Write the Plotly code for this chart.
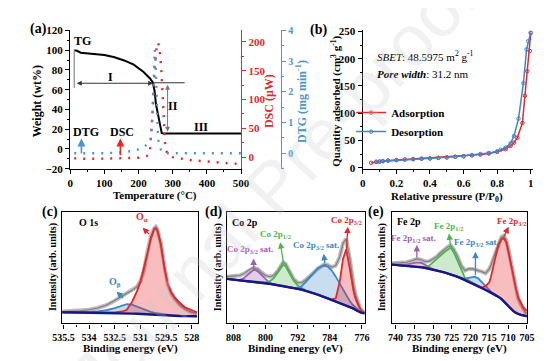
import plotly.graph_objects as go

W, H = 554, 361
def px(x): return x / W
def py(y): return 1 - y / H

FONT = "Liberation Serif"
RED = "#e8262a"; BLUE = "#3b87c9"; GREEN = "#4cb54c"; PURPLE = "#a15db6"; NAVY = "#16168e"
DTGBLUE = "#4a94d0"

# ---------------- (a) TG / DTG / DSC ----------------
tg_temp = [12, 20, 31, 50, 69, 100, 130, 158, 186, 214, 233, 242, 247, 251, 258, 263, 268, 275, 300, 400, 500]
tg_weight = [100, 99.4, 97.5, 96.5, 96.1, 95.1, 92.8, 89.6, 85.3, 78.1, 71.6, 67.3, 58.5, 45.4, 32.3, 22.5, 16.0, 15.5, 15.5, 15.5, 15.5]

dtg_temp = [12, 50, 100, 150, 186, 215, 235, 241, 244, 247.6, 250, 252, 254, 257, 261, 268, 276, 300, 350, 400, 450, 500]
dtg_value = [0.0, 0.0, 0.0, 0.03, 0.08, 0.19, 0.4, 1.2, 2.2, 3.37, 3.0, 2.0, 1.0, 0.5, 0.24, 0.05, 0.0, 0.0, 0.0, 0.0, 0.0, 0.0]

dsc_temp = [12, 50, 100, 150, 200, 224, 233, 238, 243, 248, 253, 257, 261, 266, 271, 275, 278, 285, 300, 350, 400, 450, 500]
dsc_value = [-2, -3, -2.5, -2, -1, 2, 6, 47, 103, 159, 190, 199, 190, 159, 103, 47, 19, 4, 0, -5, -8, -10, -12]

# ---------------- (b) N2 isotherm ----------------
p_ads = [0.05, 0.08, 0.10, 0.12, 0.15, 0.20, 0.25, 0.30, 0.35, 0.40, 0.45, 0.50, 0.55, 0.60, 0.65, 0.70, 0.75, 0.80, 0.85, 0.88, 0.90, 0.92, 0.95, 0.965, 0.979, 0.994, 1.0]
q_ads = [9, 10.5, 11, 12, 13, 14, 15, 16, 16.5, 17, 18, 19, 20, 21, 22.5, 24, 26, 29, 34, 40, 46, 55, 82, 132, 177, 214, 247]
p_des = [1.0, 0.985, 0.975, 0.956, 0.927, 0.90, 0.88, 0.85, 0.82, 0.80, 0.75, 0.70, 0.65, 0.60, 0.55, 0.50, 0.45, 0.40, 0.35, 0.30, 0.25, 0.20, 0.15, 0.12, 0.10, 0.08]
q_des = [248, 232, 217, 155, 90, 58, 45, 37, 33, 30, 27, 25, 23, 21, 20, 19, 18, 17, 16.5, 15.5, 15, 14, 13, 12, 11.5, 11]

# ---------------- (c) O 1s ----------------
o_energy = [535.6, 535, 534.5, 534, 533.5, 533, 532.5, 532, 531.8, 531.5, 531.2, 531.0, 530.8, 530.6, 530.4, 530.2, 530.1, 530.0, 529.8, 529.6, 529.4, 529.2, 529.0, 528.7, 528.4, 528.0, 527.7]
o_background = [0.100, 0.099, 0.098, 0.097, 0.096, 0.095, 0.093, 0.091, 0.090, 0.088, 0.086, 0.084, 0.082, 0.080, 0.078, 0.076, 0.075, 0.074, 0.072, 0.070, 0.069, 0.068, 0.067, 0.066, 0.065, 0.064, 0.064]
o_beta = [0.100, 0.099, 0.099, 0.101, 0.107, 0.118, 0.138, 0.163, 0.172, 0.168, 0.150, 0.136, 0.122, 0.112, 0.104, 0.097, 0.094, 0.091, 0.086, 0.081, 0.076, 0.072, 0.069, 0.067, 0.065, 0.064, 0.064]
o_alpha = [0.100, 0.099, 0.098, 0.097, 0.096, 0.096, 0.099, 0.110, 0.122, 0.190, 0.290, 0.377, 0.490, 0.625, 0.760, 0.850, 0.855, 0.830, 0.700, 0.500, 0.350, 0.280, 0.235, 0.185, 0.145, 0.115, 0.100]
o_data = [0.107, 0.110, 0.114, 0.122, 0.138, 0.163, 0.203, 0.250, 0.270, 0.295, 0.330, 0.380, 0.470, 0.640, 0.780, 0.855, 0.870, 0.845, 0.720, 0.520, 0.350, 0.270, 0.220, 0.165, 0.130, 0.100, 0.090]

# ---------------- (d) Co 2p ----------------
co_energy = [809.7, 808, 806.5, 805.5, 804.5, 803.5, 802.9, 802, 801, 800, 799, 798, 797, 796, 795.6, 795, 794, 793, 792, 791, 790, 789, 788, 787, 786, 785.4, 784.5, 783.5, 782.5, 781.5, 780.7, 779.9, 779, 778.5, 778, 777.5, 777, 776.5, 776, 775.3]
co_background = [0.400, 0.394, 0.388, 0.385, 0.382, 0.378, 0.376, 0.372, 0.367, 0.362, 0.356, 0.350, 0.344, 0.338, 0.336, 0.332, 0.325, 0.318, 0.311, 0.303, 0.293, 0.283, 0.272, 0.259, 0.245, 0.237, 0.225, 0.210, 0.196, 0.183, 0.172, 0.160, 0.148, 0.140, 0.130, 0.118, 0.108, 0.100, 0.095, 0.090]
co_sat_a = [0.400, 0.394, 0.392, 0.405, 0.435, 0.470, 0.484, 0.470, 0.432, 0.395, 0.365, 0.352, 0.344, 0.338, 0.336, 0.332, 0.325, 0.318, 0.311, 0.303, 0.293, 0.283, 0.272, 0.259, 0.245, 0.237, 0.225, 0.210, 0.196, 0.183, 0.172, 0.160, 0.148, 0.140, 0.130, 0.118, 0.108, 0.100, 0.095, 0.090]
co_2p12 = [0.400, 0.394, 0.388, 0.385, 0.382, 0.378, 0.376, 0.372, 0.367, 0.368, 0.378, 0.405, 0.455, 0.515, 0.528, 0.515, 0.455, 0.385, 0.340, 0.315, 0.298, 0.285, 0.273, 0.259, 0.245, 0.237, 0.225, 0.210, 0.196, 0.183, 0.172, 0.160, 0.148, 0.140, 0.130, 0.118, 0.108, 0.100, 0.095, 0.090]
co_sat_b = [0.400, 0.394, 0.388, 0.385, 0.382, 0.378, 0.376, 0.372, 0.367, 0.362, 0.356, 0.350, 0.344, 0.338, 0.336, 0.332, 0.325, 0.318, 0.320, 0.335, 0.370, 0.415, 0.460, 0.495, 0.515, 0.520, 0.510, 0.475, 0.420, 0.355, 0.300, 0.250, 0.200, 0.175, 0.155, 0.135, 0.118, 0.105, 0.097, 0.090]
co_2p32 = [0.400, 0.394, 0.388, 0.385, 0.382, 0.378, 0.376, 0.372, 0.367, 0.362, 0.356, 0.350, 0.344, 0.338, 0.336, 0.332, 0.325, 0.318, 0.311, 0.303, 0.293, 0.283, 0.272, 0.259, 0.245, 0.237, 0.225, 0.215, 0.225, 0.380, 0.580, 0.667, 0.490, 0.370, 0.280, 0.215, 0.170, 0.135, 0.110, 0.095]
co_data = [0.420, 0.425, 0.430, 0.445, 0.470, 0.495, 0.500, 0.490, 0.455, 0.430, 0.420, 0.430, 0.470, 0.530, 0.550, 0.535, 0.470, 0.400, 0.365, 0.365, 0.390, 0.425, 0.460, 0.490, 0.515, 0.530, 0.525, 0.505, 0.520, 0.600, 0.720, 0.760, 0.580, 0.440, 0.330, 0.250, 0.190, 0.145, 0.115, 0.100]

# ---------------- (e) Fe 2p ----------------
fe_energy = [741, 739, 737, 735.5, 734.3, 733, 732, 731, 730, 729, 728, 727, 726, 725.3, 724.5, 723.6, 722.5, 721.5, 720.5, 719.5, 718.9, 718, 717, 716, 715, 714.5, 713.8, 713, 712.5, 711.8, 711.2, 710.5, 709.9, 709.2, 708.6, 707.9, 707.3, 706.6, 706, 705.4, 705]
fe_background = [0.528, 0.523, 0.518, 0.513, 0.510, 0.504, 0.498, 0.491, 0.484, 0.476, 0.467, 0.458, 0.448, 0.441, 0.432, 0.420, 0.405, 0.390, 0.375, 0.360, 0.350, 0.337, 0.320, 0.300, 0.283, 0.275, 0.263, 0.248, 0.238, 0.220, 0.200, 0.172, 0.150, 0.128, 0.110, 0.093, 0.083, 0.076, 0.072, 0.067, 0.064]
fe_sat_a = [0.528, 0.526, 0.528, 0.540, 0.548, 0.543, 0.525, 0.502, 0.487, 0.476, 0.467, 0.458, 0.448, 0.441, 0.432, 0.420, 0.405, 0.390, 0.375, 0.360, 0.350, 0.337, 0.320, 0.300, 0.283, 0.275, 0.263, 0.248, 0.238, 0.220, 0.200, 0.172, 0.150, 0.128, 0.110, 0.093, 0.083, 0.076, 0.072, 0.067, 0.064]
fe_2p12 = [0.528, 0.523, 0.518, 0.513, 0.510, 0.504, 0.505, 0.520, 0.550, 0.585, 0.615, 0.640, 0.665, 0.680, 0.640, 0.570, 0.475, 0.410, 0.385, 0.368, 0.357, 0.342, 0.324, 0.303, 0.285, 0.275, 0.263, 0.248, 0.238, 0.220, 0.200, 0.172, 0.150, 0.128, 0.110, 0.093, 0.083, 0.076, 0.072, 0.067, 0.064]
fe_sat_b = [0.528, 0.523, 0.518, 0.513, 0.510, 0.504, 0.498, 0.491, 0.484, 0.476, 0.467, 0.458, 0.448, 0.441, 0.432, 0.420, 0.407, 0.400, 0.410, 0.418, 0.420, 0.405, 0.370, 0.330, 0.298, 0.283, 0.268, 0.248, 0.238, 0.220, 0.200, 0.172, 0.150, 0.128, 0.110, 0.093, 0.083, 0.076, 0.072, 0.067, 0.064]
fe_2p32 = [0.528, 0.523, 0.518, 0.513, 0.510, 0.504, 0.498, 0.491, 0.484, 0.476, 0.467, 0.458, 0.448, 0.441, 0.432, 0.420, 0.405, 0.390, 0.375, 0.360, 0.350, 0.337, 0.322, 0.335, 0.370, 0.430, 0.540, 0.650, 0.710, 0.755, 0.768, 0.730, 0.637, 0.520, 0.406, 0.310, 0.232, 0.180, 0.145, 0.125, 0.116]
fe_data = [0.540, 0.545, 0.550, 0.565, 0.580, 0.570, 0.555, 0.560, 0.580, 0.600, 0.635, 0.667, 0.690, 0.700, 0.665, 0.610, 0.520, 0.475, 0.490, 0.490, 0.485, 0.478, 0.465, 0.450, 0.490, 0.530, 0.600, 0.680, 0.730, 0.775, 0.788, 0.750, 0.667, 0.540, 0.420, 0.310, 0.220, 0.170, 0.130, 0.100, 0.090]

fig = go.Figure()

# ---- (a) traces
fig.add_trace(go.Scatter(x=tg_temp, y=tg_weight, mode="lines", line=dict(color="black", width=2), xaxis="x", yaxis="y"))
fig.add_trace(go.Scatter(x=dsc_temp, y=dsc_value, mode="lines", line=dict(color=RED, width=2.4, dash="2px,7px"), xaxis="x", yaxis="y2"))
fig.add_trace(go.Scatter(x=dtg_temp, y=dtg_value, mode="lines", line=dict(color=DTGBLUE, width=2.4, dash="2px,7px"), xaxis="x", yaxis="y3"))

# ---- (b) traces
fig.add_trace(go.Scatter(x=p_ads, y=q_ads, mode="lines+markers", name="<b>Adsorption</b>",
                         line=dict(color=RED, width=1.5), marker=dict(size=3.5, color=RED, symbol="circle-open", line=dict(width=1)),
                         xaxis="x2", yaxis="y4", showlegend=True, legendrank=1))
fig.add_trace(go.Scatter(x=p_des, y=q_des, mode="lines+markers", name="<b>Desorption</b>",
                         line=dict(color=BLUE, width=1.5), marker=dict(size=3.5, color=BLUE, symbol="circle-open", line=dict(width=1)),
                         xaxis="x2", yaxis="y4", showlegend=True, legendrank=2))

def xps(xa, ya, energy, background, data, comps):
    fig.add_trace(go.Scatter(x=energy, y=data, mode="lines", line=dict(color="rgba(160,160,160,0.7)", width=4),
                             xaxis=xa, yaxis=ya, hoverinfo="skip"))
    fig.add_trace(go.Scatter(x=energy, y=data, mode="lines", line=dict(color="rgba(115,115,115,0.85)", width=1.1),
                             xaxis=xa, yaxis=ya, hoverinfo="skip"))
    for vals, col, fcol in comps:
        fig.add_trace(go.Scatter(x=energy, y=background, mode="lines", line=dict(width=0, color=col),
                                 xaxis=xa, yaxis=ya, hoverinfo="skip"))
        fig.add_trace(go.Scatter(x=energy, y=vals, mode="lines", line=dict(color=col, width=1.8),
                                 fill="tonexty", fillcolor=fcol, xaxis=xa, yaxis=ya, hoverinfo="skip"))
    fig.add_trace(go.Scatter(x=energy, y=background, mode="lines", line=dict(color=NAVY, width=2.4),
                             xaxis=xa, yaxis=ya, hoverinfo="skip"))

FR = "rgba(232,38,42,0.30)"; FB = "rgba(59,135,201,0.28)"; FG = "rgba(76,181,76,0.28)"; FP = "rgba(161,93,182,0.30)"
xps("x3", "y5", o_energy, o_background, o_data, [(o_beta, BLUE, FB), (o_alpha, RED, FR)])
xps("x4", "y6", co_energy, co_background, co_data,
    [(co_sat_a, PURPLE, FP), (co_2p12, GREEN, FG), (co_sat_b, BLUE, FB), (co_2p32, RED, FR)])
xps("x5", "y7", fe_energy, fe_background, fe_data,
    [(fe_sat_a, PURPLE, FP), (fe_2p12, GREEN, FG), (fe_sat_b, BLUE, FB), (fe_2p32, RED, FR)])

for tr in fig.data:
    if tr.showlegend is None:
        tr.showlegend = False

tf = dict(family=FONT, size=11, color="black", weight="bold")
def axstyle(**kw):
    d = dict(showline=True, linecolor="black", linewidth=1.4, ticks="outside", ticklen=4, tickwidth=1.2,
             tickcolor="black", tickfont=tf, showgrid=False, zeroline=False, fixedrange=True)
    d.update(kw)
    return d

dom_top = [py(160), py(17)]
dom_bot = [py(320), py(205)]

layout = dict(
    width=W, height=H, margin=dict(l=0, r=0, t=0, b=0), autosize=False,
    paper_bgcolor="white", plot_bgcolor="rgba(0,0,0,0)",
    font=dict(family=FONT, size=11, color="black"),
    xaxis=axstyle(domain=[px(54), px(231)], range=[0, 500], anchor="y", tickvals=[0, 100, 200, 300, 400, 500],
                  minor=dict(tickvals=[50, 150, 250, 350, 450], ticks="outside", ticklen=2, tickcolor="black")),
    yaxis=axstyle(domain=dom_top, range=[-20, 120], anchor="x", tickvals=list(range(-20, 121, 20)),
                  minor=dict(tickvals=list(range(-10, 120, 20)), ticks="outside", ticklen=2, tickcolor="black")),
    yaxis2=axstyle(overlaying="y", side="right", anchor="x", range=[-20, 220], tickvals=[0, 50, 100, 150, 200],
                   linecolor=RED, tickcolor=RED, tickfont=dict(family=FONT, size=11, color=RED, weight="bold"),
                   minor=dict(tickvals=[25, 75, 125, 175], ticks="outside", ticklen=2, tickcolor=RED)),
    yaxis3=axstyle(overlaying="y", side="right", anchor="free", position=px(272.5), range=[-0.5, 4.0],
                   tickvals=[0, 1, 2, 3, 4], linecolor=DTGBLUE, tickcolor=DTGBLUE,
                   tickfont=dict(family=FONT, size=10, color=DTGBLUE, weight="bold"),
                   minor=dict(tickvals=[-0.5, 0.5, 1.5, 2.5, 3.5], ticks="outside", ticklen=2, tickcolor=DTGBLUE)),
    xaxis2=axstyle(domain=[px(357), px(533)], range=[0, 1.0115], anchor="y4",
                   tickvals=[0, 0.2, 0.4, 0.6, 0.8, 1.0], ticktext=["0", "0.2", "0.4", "0.6", "0.8", "1"],
                   minor=dict(tickvals=[0.1, 0.3, 0.5, 0.7, 0.9], ticks="outside", ticklen=2, tickcolor="black")),
    yaxis4=axstyle(domain=dom_top, range=[-1.8, 251.8], anchor="x2", tickvals=[0, 50, 100, 150, 200, 250],
                   minor=dict(tickvals=[25, 75, 125, 175, 225], ticks="outside", ticklen=2, tickcolor="black")),
    xaxis3=axstyle(domain=[px(46), px(186)], range=[535.56, 527.66], anchor="y5", mirror=True,
                   tickvals=[535.5, 534, 532.5, 531, 529.5, 528], ticktext=["535.5", "534", "532.5", "531", "529.5", "528"],
                   tickfont=dict(family=FONT, size=10, color="black", weight="bold"),
                   minor=dict(tickvals=[534.75, 533.25, 531.75, 530.25, 528.75], ticks="outside", ticklen=2, tickcolor="black")),
    yaxis5=axstyle(domain=dom_bot, range=[0, 1], anchor="x3", mirror=True, ticks="", showticklabels=False),
    xaxis4=axstyle(domain=[px(216), px(359)], range=[809.7, 775.3], anchor="y6", mirror=True,
                   tickvals=[808, 800, 792, 784, 776], tickfont=dict(family=FONT, size=10, color="black", weight="bold"),
                   minor=dict(tickvals=[804, 796, 788, 780], ticks="outside", ticklen=2, tickcolor="black")),
    yaxis6=axstyle(domain=dom_bot, range=[0, 1], anchor="x4", mirror=True, ticks="", showticklabels=False),
    xaxis5=axstyle(domain=[px(387), px(527)], range=[741.0, 705.0], anchor="y7", mirror=True,
                   tickvals=[740, 735, 730, 725, 720, 715, 710, 705], tickfont=dict(family=FONT, size=10, color="black", weight="bold")),
    yaxis7=axstyle(domain=dom_bot, range=[0, 1], anchor="x5", mirror=True, ticks="", showticklabels=False),
    legend=dict(x=px(345), y=py(87), xanchor="left", yanchor="top", bgcolor="rgba(0,0,0,0)", traceorder="normal",
                font=dict(family=FONT, size=11, color="black"), itemwidth=30, tracegroupgap=0),
)
fig.update_layout(**layout)

ann = []
def t(xp, yp, text, size=11, color="black", angle=0, bold=True, xanchor="center"):
    ann.append(dict(x=px(xp), y=py(yp), xref="paper", yref="paper", text=text, showarrow=False,
                    textangle=angle, xanchor=xanchor, yanchor="middle",
                    font=dict(family=FONT, size=size, color=color, weight="bold" if bold else "normal")))

# panel labels
t(21, 15, "(a)", 14); t(311, 17, "(b)", 14); t(33, 205, "(c)", 14); t(202, 205, "(d)", 14); t(371, 205, "(e)", 14)
# axis titles
t(20, 90, "Weight (wt%)", 12, angle=-90)
t(260, 90, "DSC (μW)", 12, color=RED, angle=-90)
t(293, 90, "DTG (mg min<sup>-1</sup>)", 12, color=DTGBLUE, angle=-90)
t(142, 188, "Temperature (°C)", 11)
t(444, 189, "Relative pressure (P/P<sub>0</sub>)", 11)
t(329, 90, "Quantity adsorbed (cm<sup>3</sup> g<sup>-1</sup>)", 11, angle=-90)
for xc, yl in [(116, 37), (287.5, 207), (457, 377)]:
    t(xc, 346, "Binding energy (eV)", 11)
    t(yl, 262, "Intensity (arb. units)", 10, angle=-90)

# (b) text
t(370, 43, "<i>SBET</i>: 48.5975 m<sup>2</sup> g<sup>-1</sup>", 11, bold=False, xanchor="left")
t(370, 62, "<b><i>Pore width</i></b>: 31.2 nm", 11, bold=False, xanchor="left")

# (a) annotations in data coords
def ta(x, y, text, color="black", size=12):
    ann.append(dict(x=x, y=y, xref="x", yref="y", text=text, showarrow=False,
                    font=dict(family=FONT, size=size, color=color, weight="bold")))
ta(37, 109, "TG"); ta(118, 73, "I"); ta(302, 43.6, "II"); ta(384, 22.4, "III")
ta(45, 17, "DTG"); ta(153, 17, "DSC")

def arr(x, y, ax, ay, color, side="end", width=1.2, head=2, size=1.0, xref="x", yref="y"):
    ann.append(dict(x=x, y=y, ax=ax, ay=ay, xref=xref, yref=yref, axref=xref, ayref=yref, text="",
                    showarrow=True, arrowhead=head, arrowsize=size, arrowwidth=width, arrowcolor=color,
                    arrowside=side, startarrowhead=head, startarrowsize=size))
arr(243, 66.5, 15, 66.5, "#333333", side="end+start", width=1.0)
arr(285, 17.5, 285, 66.5, "#777777", side="end+start", width=1.0)
arr(33, 10.5, 33, -6, DTGBLUE, width=1.6)
arr(147, 10.5, 147, -8, RED, width=1.6)

# XPS labels and arrows (paper coords)
def parr(hx, hy, tx, ty, color):
    ann.append(dict(x=px(hx), y=py(hy), xref="paper", yref="paper", ax=tx - hx, ay=ty - hy,
                    axref="pixel", ayref="pixel", text="", showarrow=True, arrowhead=2, arrowsize=1,
                    arrowwidth=1.3, arrowcolor=color))

t(61, 216, "O 1s", 10, xanchor="left")
t(128, 211, "O<sub>α</sub>", 10, color=RED)
parr(129, 221, 137, 229, RED)
t(100, 278, "O<sub>β</sub>", 10, color=BLUE)
parr(102, 287, 110, 295, BLUE)

t(220, 216, "Co 2p", 10, xanchor="left")
t(340, 214, "Co 2p<sub>3/2</sub>", 9, color=RED); parr(341.5, 220, 340, 246, RED)
t(267, 228, "Co 2p<sub>1/2</sub>", 9, color=GREEN); parr(271.5, 236, 275, 258, GREEN)
t(240, 244, "Co 2p<sub>3/2</sub> sat.", 9, color=PURPLE); parr(244, 253, 244, 265, PURPLE)
t(309, 239, "Co 2p<sub>3/2</sub> sat.", 9, color=BLUE); parr(316.5, 248, 318, 259, BLUE)

t(390, 215, "Fe 2p", 10, xanchor="left")
t(511, 215, "Fe 2p<sub>3/2</sub>", 9, color=RED); parr(508, 220, 503, 231, RED)
t(446, 220, "Fe 2p<sub>1/2</sub>", 9, color=GREEN); parr(446.3, 227, 448, 241, GREEN)
t(410, 232, "Fe 2p<sub>1/2</sub> sat.", 9, color=PURPLE); parr(413, 239, 413, 253, PURPLE)
t(475, 236, "Fe 2p<sub>3/2</sub> sat.", 9, color=BLUE); parr(473.7, 246, 473.7, 271, BLUE)

# watermark
ann.append(dict(x=px(265), y=py(178), xref="paper", yref="paper", text="Journal Pre-proof", showarrow=False,
                textangle=-47, font=dict(family="Liberation Sans", size=72, color="rgba(200,200,200,0.25)")))

shapes = [
    dict(type="line", xref="x", yref="y", x0=12, x1=12, y0=62, y1=100, line=dict(color="#888888", width=1.2)),
    dict(type="line", xref="x", yref="y", x0=243, x1=335, y0=67, y1=67, line=dict(color="#333333", width=1.0)),
]
fig.update_layout(annotations=ann, shapes=shapes)
fig.write_html("out.html")
